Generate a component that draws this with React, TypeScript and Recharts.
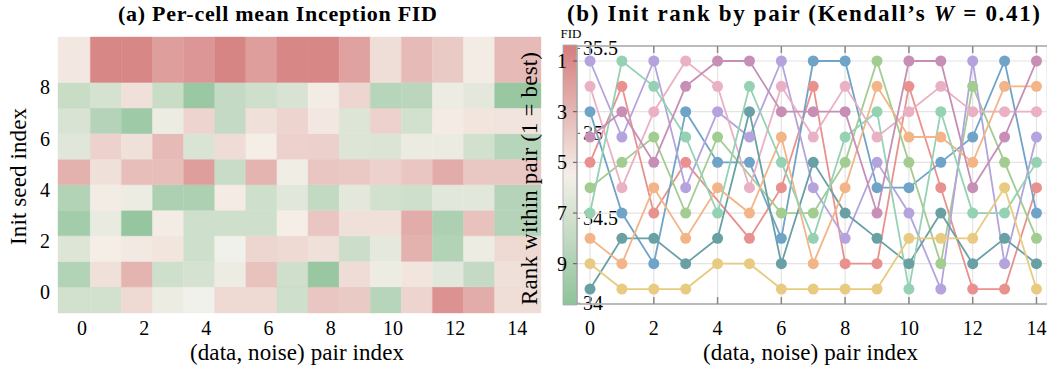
import React from 'react';
import { ComposedChart, XAxis, YAxis, CartesianGrid, ReferenceArea, Line, Scatter } from 'recharts';

const FONT = '"Liberation Serif", "Times New Roman", serif';

// ---------- data ----------
const pairs = [0, 1, 2, 3, 4, 5, 6, 7, 8, 9, 10, 11, 12, 13, 14];
const seeds = [0, 1, 2, 3, 4, 5, 6, 7, 8, 9];
const pairTicks = [0, 2, 4, 6, 8, 10, 12, 14];
const seedTicks = [0, 2, 4, 6, 8];
const rankTicks = [1, 3, 5, 7, 9];
const fidTicks = [34, 34.5, 35, 35.5];

// per-cell mean FID, one list per init seed (index = pair)
const fidSeed0 = [34.5, 34.5, 34.9, 34.7, null, 34.9, 34.9, 34.47, 35.03, 35.0, 34.3, 34.93, 35.38, 35.2, 34.87];
const fidSeed1 = [34.27, 34.85, 35.15, 34.47, 34.53, 34.7, 35.05, 34.48, 34.07, 34.88, 34.7, 34.82, 34.62, 34.4, 34.85];
const fidSeed2 = [34.58, 34.76, 34.79, 34.82, 34.47, null, 34.92, 34.9, 34.85, 34.45, 34.64, 35.17, 34.27, 34.7, 34.9];
const fidSeed3 = [34.15, 34.67, 34.05, 34.77, 34.47, 34.47, 34.47, 34.76, 35.03, 34.85, 34.85, 35.2, 34.22, 35.05, 34.28];
const fidSeed4 = [34.27, 34.77, 34.7, 34.22, 34.22, 34.78, 34.47, 34.62, 34.38, 34.63, 34.5, 34.47, 34.62, 34.62, 34.28];
const fidSeed5 = [35.17, 34.85, 35.08, 35.08, 35.3, 34.43, 35.15, 34.72, 35.03, 35.01, 34.95, 35.03, 35.2, 35.02, 35.02];
const fidSeed6 = [34.6, 34.95, 34.85, 35.1, 34.56, 34.88, 34.76, 34.95, 34.96, 34.58, 34.57, 34.68, 34.68, 34.5, 34.3];
const fidSeed7 = [34.55, 34.28, 34.12, 34.7, 34.93, 34.4, 34.85, 34.93, 34.8, 34.58, 34.95, 34.5, 34.78, 34.82, 34.83];
const fidSeed8 = [34.42, 34.52, 34.85, 34.42, 34.08, 34.4, 34.47, 34.55, 34.77, 34.92, 34.3, 34.33, 34.7, 34.63, 34.07];
const fidSeed9 = [34.8, 35.45, 35.45, 35.3, 35.35, 35.47, 35.3, 35.45, 35.45, 35.27, 34.87, 35.1, 35.0, 34.77, 35.1];

// rank within pair, one list per init seed (index = pair)
const rankSeed0 = [5, 2, 7, 5, null, 8, 6, 2, 9, 9, 2, 6, 10, 10, 6];
const rankSeed1 = [3, 7, 9, 3, 5, 5, 8, 1, 1, 6, 6, 5, 4, 1, 7];
const rankSeed2 = [6, 5, 4, 7, 4, null, 7, 7, 5, 1, 5, 9, 2, 5, 8];
const rankSeed3 = [1, 4, 1, 6, 3, 4, 1, 6, 8, 5, 7, 10, 1, 9, 4];
const rankSeed4 = [2, 6, 3, 1, 2, 6, 2, 4, 2, 4, 3, 2, 3, 3, 3];
const rankSeed5 = [10, 8, 8, 9, 8, 3, 9, 5, 7, 8, 9, 7, 9, 8, 9];
const rankSeed6 = [8, 9, 6, 8, 6, 7, 4, 9, 6, 2, 4, 4, 5, 2, 2];
const rankSeed7 = [7, 1, 2, 4, 7, 2, 5, 8, 4, 3, 10, 3, 7, 7, 5];
const rankSeed8 = [4, 3, 5, 2, 1, 1, 3, 3, 3, 7, 1, 1, 6, 4, 1];
const rankSeed9 = [9, 10, 10, 10, 9, 9, 10, 10, 10, 10, 8, 8, 8, 6, 10];

const seedColors = ['#e8918f', '#6fa3c8', '#a3cc91', '#b4a3dd', '#eab0c3', '#68a0a4', '#f3b487', '#94d2b3', '#c78fb6', '#e8cb80'];

// cell edges in data units (last column / top row are wider)
const xEdges = [-0.77, 0.27, 1.27, 2.27, 3.27, 4.27, 5.27, 6.27, 7.27, 8.27, 9.27, 10.27, 11.27, 12.27, 13.27, 14.76];
const yEdges = [-0.83, 0.19, 1.19, 2.19, 3.19, 4.19, 5.19, 6.19, 7.19, 8.19, 9.97];

// colour scale
const fidMin = 34.0;
const fidMid = 34.75;
const fidMax = 35.5;
const cbarDomain = [33.99, 35.52];
const loRGB = [143, 195, 155];
const midRGB = [244, 239, 232];
const hiRGB = [214, 128, 128];

// ---------- derived ----------
const fidBySeed = [fidSeed0, fidSeed1, fidSeed2, fidSeed3, fidSeed4, fidSeed5, fidSeed6, fidSeed7, fidSeed8, fidSeed9];
const rankBySeed = [rankSeed0, rankSeed1, rankSeed2, rankSeed3, rankSeed4, rankSeed5, rankSeed6, rankSeed7, rankSeed8, rankSeed9];

function rgb(c: number[]) {
  return `rgb(${c[0]},${c[1]},${c[2]})`;
}
function mix(a: number[], b: number[], t: number) {
  return rgb(a.map((v, i) => Math.round(v + (b[i] - v) * t)));
}
function fidColor(v: number | null) {
  if (v == null) return '#f1f1ec';
  const x = Math.max(fidMin, Math.min(fidMax, v));
  if (x <= fidMid) return mix(loRGB, midRGB, (x - fidMin) / (fidMid - fidMin));
  return mix(midRGB, hiRGB, (x - fidMid) / (fidMax - fidMid));
}

const cells: { x1: number; x2: number; y1: number; y2: number; fill: string; key: string }[] = [];
seeds.forEach((s) => {
  pairs.forEach((p) => {
    cells.push({ x1: xEdges[p], x2: xEdges[p + 1], y1: yEdges[s], y2: yEdges[s + 1], fill: fidColor(fidBySeed[s][p]), key: `${s}-${p}` });
  });
});
const cellCenters = cells.map((c) => ({ x: (c.x1 + c.x2) / 2, y: (c.y1 + c.y2) / 2 }));

const rankRows = pairs.map((p) => {
  const row: Record<string, number | null> = { pair: p };
  seeds.forEach((s) => { row[`s${s}`] = rankBySeed[s][p]; });
  return row;
});

const TICK_FS = 20;
const tickStyle = { fontSize: TICK_FS, fill: '#000', fontFamily: FONT };

function Heatmap() {
  return (
    <ComposedChart width={560} height={366} margin={{ top: 37, left: 28, right: 19, bottom: 23 }}>
      <XAxis type="number" dataKey="x" domain={[xEdges[0], xEdges[xEdges.length - 1]]} allowDataOverflow ticks={pairTicks} interval={0}
        axisLine={false} tickLine={false} tickSize={0} tickMargin={8} height={30} tick={tickStyle} />
      <YAxis type="number" dataKey="y" domain={[yEdges[0], yEdges[yEdges.length - 1]]} allowDataOverflow ticks={seedTicks} interval={0}
        axisLine={false} tickLine={false} tickSize={0} tickMargin={8} width={30} tick={tickStyle} />
      {cells.map((c) => (
        <ReferenceArea key={c.key} x1={c.x1} x2={c.x2} y1={c.y1} y2={c.y2} fill={c.fill} fillOpacity={1}
          stroke={c.fill} strokeWidth={0.4} ifOverflow="visible" />
      ))}
      <Scatter data={cellCenters} dataKey="y" fill="none" fillOpacity={0} isAnimationActive={false} />
    </ComposedChart>
  );
}

function ColorBar() {
  const span = cbarDomain[1] - cbarDomain[0];
  const midOff = (cbarDomain[1] - fidMid) / span;
  const hiOff = (cbarDomain[1] - fidMax) / span;
  const loOff = (cbarDomain[1] - fidMin) / span;
  return (
    <ComposedChart width={120} height={366} margin={{ top: 45, left: 23, right: 43, bottom: 61 }}>
      <defs>
        <linearGradient id="cbarGrad" x1="0" y1="0" x2="0" y2="1">
          <stop offset={0} stopColor={rgb(hiRGB)} />
          <stop offset={hiOff} stopColor={rgb(hiRGB)} />
          <stop offset={midOff} stopColor={rgb(midRGB)} />
          <stop offset={loOff} stopColor={rgb(loRGB)} />
          <stop offset={1} stopColor={rgb(loRGB)} />
        </linearGradient>
      </defs>
      <XAxis type="number" dataKey="x" domain={[0, 1]} allowDataOverflow hide />
      <YAxis type="number" dataKey="y" orientation="right" domain={cbarDomain} allowDataOverflow ticks={fidTicks} interval={0}
        axisLine={false} tickLine={{ stroke: '#555' }} tickSize={3} tickMargin={3} width={40}
        tick={{ ...tickStyle, textAnchor: 'start' }} />
      <ReferenceArea x1={0} x2={1} y1={cbarDomain[0]} y2={cbarDomain[1]} fill="url(#cbarGrad)" fillOpacity={1} stroke="#aaa" strokeWidth={0.8} ifOverflow="visible" />
      <Scatter data={[{ x: 0.5, y: 34.5 }]} dataKey="y" fill="none" fillOpacity={0} isAnimationActive={false} />
    </ComposedChart>
  );
}

function RankChart() {
  return (
    <ComposedChart width={547} height={366} data={rankRows} margin={{ top: 46, left: 47, right: 0, bottom: 32 }}>
      <CartesianGrid xAxisId="b" yAxisId="r" stroke="#e4e4e4" strokeWidth={1.2} />
      <XAxis xAxisId="b" type="number" dataKey="pair" domain={[-0.408, 14.33]} allowDataOverflow ticks={pairTicks} interval={0}
        axisLine={{ stroke: '#a8a8a8', strokeWidth: 1.5 }} tickLine={false} tickSize={0} tickMargin={17} height={30} tick={tickStyle} />
      <XAxis xAxisId="bm" type="number" dataKey="pair" domain={[-0.408, 14.33]} allowDataOverflow ticks={pairTicks} interval={0}
        orientation="bottom" mirror axisLine={false} tickLine={{ stroke: '#888', strokeWidth: 1.5 }} tickSize={7} tickFormatter={() => ''} />
      <XAxis xAxisId="t" type="number" dataKey="pair" domain={[-0.408, 14.33]} allowDataOverflow ticks={pairTicks} interval={0}
        orientation="top" mirror axisLine={{ stroke: '#a8a8a8', strokeWidth: 1.5 }} tickLine={{ stroke: '#888', strokeWidth: 1.5 }} tickSize={7} tickFormatter={() => ''} />
      <YAxis yAxisId="r" type="number" domain={[0.408, 10.59]} reversed allowDataOverflow ticks={rankTicks} interval={0}
        axisLine={{ stroke: '#888', strokeWidth: 1 }} tickLine={{ stroke: '#555' }} tickSize={4} tickMargin={6} width={30} tick={tickStyle} />
      {seeds.map((s) => (
        <Line key={s} xAxisId="b" yAxisId="r" type="linear" dataKey={`s${s}`} stroke={seedColors[s]} strokeWidth={1.8}
          dot={{ r: 5.5, fill: seedColors[s], stroke: 'none' }} activeDot={false} connectNulls isAnimationActive={false} />
      ))}
    </ComposedChart>
  );
}

const abs = (left: number, top: number): React.CSSProperties => ({ position: 'absolute', left, top });

function TextLayer() {
  const common = { fontFamily: FONT, fill: '#000', lengthAdjust: 'spacing' as const };
  return (
    <svg width={1047} height={366} style={{ position: 'absolute', left: 0, top: 0, pointerEvents: 'none' }}>
      <text {...common} x={277.5} y={13} fontSize={22} fontWeight="bold" textAnchor="middle" dominantBaseline="central" textLength={319}>
        (a) Per-cell mean Inception FID
      </text>
      <text {...common} x={803.5} y={13} fontSize={23} fontWeight="bold" textAnchor="middle" dominantBaseline="central" textLength={473}>
        (b) Init rank by pair (Kendall’s <tspan fontStyle="italic">W</tspan> = 0.41)
      </text>
      <text {...common} x={297} y={352} fontSize={23} textAnchor="middle" dominantBaseline="central" textLength={214}>
        (data, noise) pair index
      </text>
      <text {...common} x={810.5} y={352} fontSize={23} textAnchor="middle" dominantBaseline="central" textLength={215}>
        (data, noise) pair index
      </text>
      <text {...common} x={18} y={176.5} fontSize={23} textAnchor="middle" dominantBaseline="central" textLength={137}
        transform="rotate(-90, 18, 176.5)">
        Init seed index
      </text>
      <text {...common} x={529} y={178.5} fontSize={23} textAnchor="middle" dominantBaseline="central" textLength={253}
        transform="rotate(-90, 529, 178.5)">
        Rank within pair (1 = best)
      </text>
      <text {...common} x={571} y={33} fontSize={13} textAnchor="middle" dominantBaseline="central">
        FID
      </text>
    </svg>
  );
}

export default function App() {
  return (
    <div style={{ position: 'absolute', left: 0, top: 0, width: 1047, height: 366, background: '#fff', overflow: 'hidden', fontFamily: FONT }}>
      <div style={abs(0, 0)}><Heatmap /></div>
      <div style={abs(540, 0)}><ColorBar /></div>
      <div style={abs(500, 0)}><RankChart /></div>
      <TextLayer />
    </div>
  );
}
